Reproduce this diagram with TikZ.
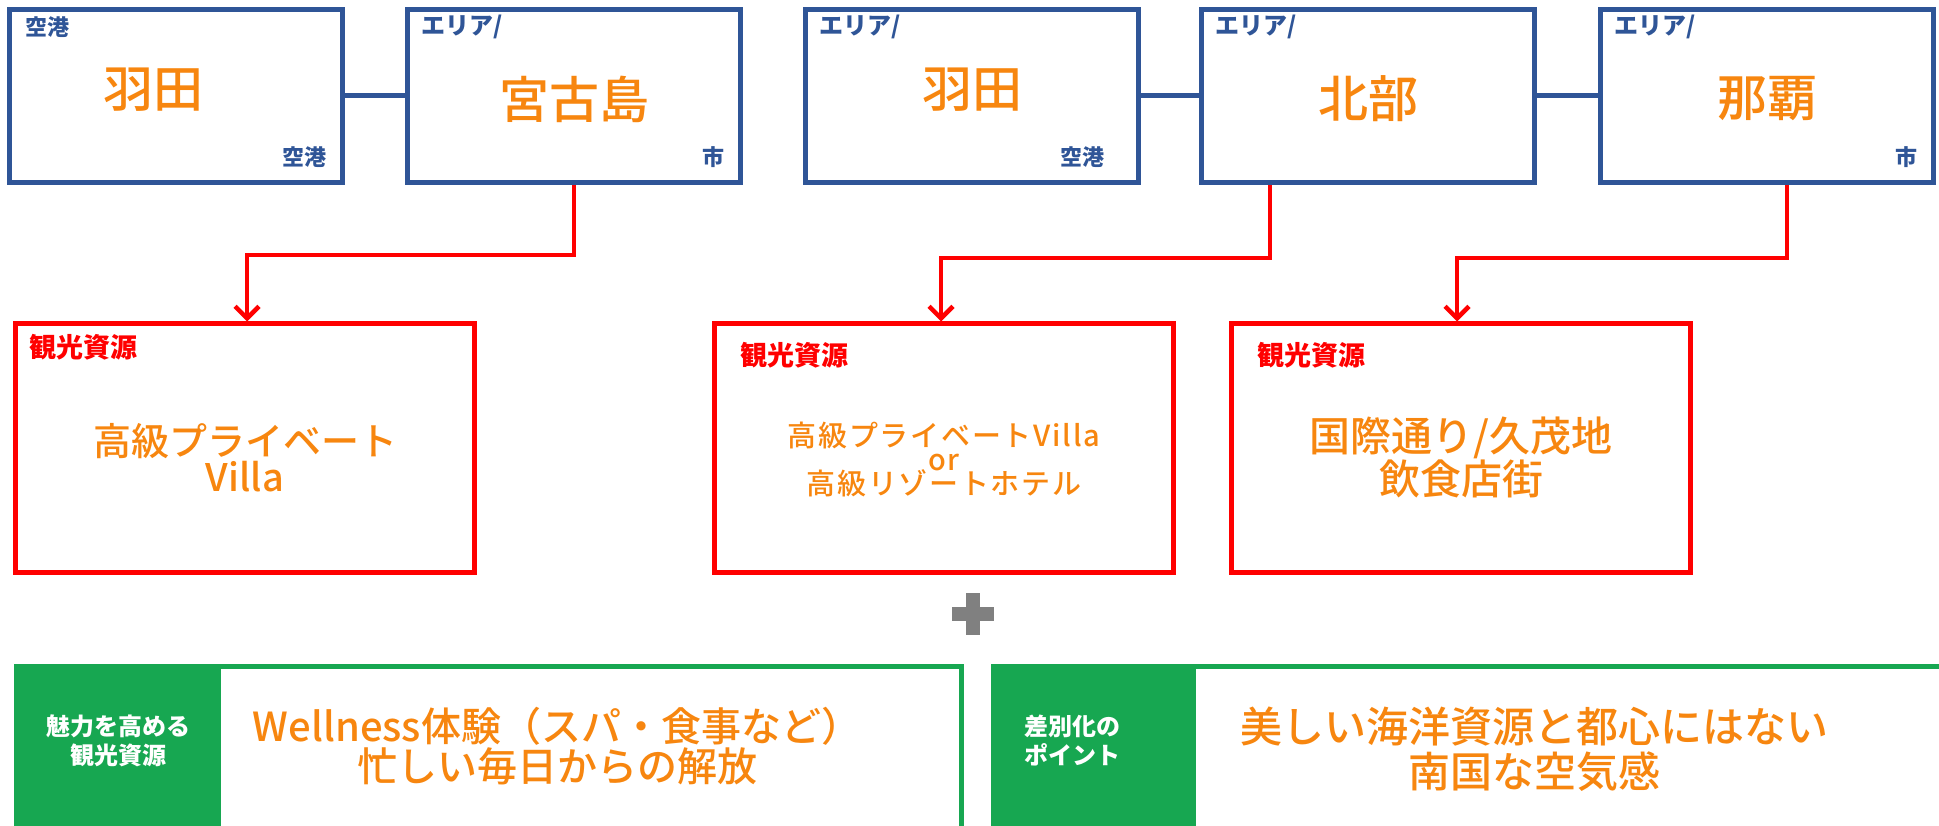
\documentclass[tikz,border=0pt]{standalone}
\usepackage{fontspec}
\setmainfont{Noto Sans CJK JP}
\newfontfamily\medfont{Noto Sans CJK JP}[UprightFont=* Medium]
\usetikzlibrary{arrows.meta}
\definecolor{bblue}{HTML}{2F5597}
\definecolor{orng}{HTML}{F7860F}
\definecolor{rred}{HTML}{FF0000}
\definecolor{ggreen}{HTML}{17A751}
\definecolor{ggray}{HTML}{808080}
\newcommand{\fs}[1]{\fontsize{#1}{#1}\selectfont}
\tikzset{
  bluebox/.style={draw=bblue,line width=5pt,minimum width=333pt,minimum height=173pt,inner sep=0pt},
  redbox/.style={draw=rred,line width=5pt,minimum width=459pt,minimum height=248pt,inner sep=0pt},
  bigtxt/.style={text=orng,font=\medfont\fs{50},inner sep=0pt},
  smalllbl/.style={text=bblue,font=\bfseries\fs{22},inner sep=0pt},
  arealbl/.style={text=bblue,font=\bfseries\fs{24},inner sep=0pt,anchor=north west},
  redlbl/.style={text=rred,font=\bfseries\fs{27},inner sep=0pt,anchor=west},
  bluelink/.style={draw=bblue,line width=5pt},
  redarrow/.style={draw=rred,line width=4.5pt,-{Straight Barb[length=12pt,width=24pt,line width=4.5pt]}},
  midtxt/.style={text=orng,inner sep=0pt,align=center},
  greenfr/.style={draw=ggreen,line width=5pt,fill=white},
  greenlbl/.style={text=white,font=\bfseries\fs{24},align=center,inner sep=0pt}
}
\begin{document}
\begin{tikzpicture}[x=1pt,y=-1pt]
\useasboundingbox (0,0) rectangle (1939,826);
% top row
\node[bluebox] (b1) at (176,96) {};
\node[bluebox] (b2) at (574,96) {};
\node[bluebox] (b3) at (972,96) {};
\node[bluebox] (b4) at (1368,96) {};
\node[bluebox] (b5) at (1767,96) {};
\draw[bluelink] (b1.east) -- (b2.west);
\draw[bluelink] (b3.east) -- (b4.west);
\draw[bluelink] (b4.east) -- (b5.west);
\node[bigtxt] (t1) at (153,90) {羽田};
\node[bigtxt] (t2) at (574,99) {宮古島};
\node[bigtxt] (t3) at (972,90) {羽田};
\node[bigtxt] (t4) at (1368,99) {北部};
\node[bigtxt] (t5) at (1767,99) {那覇};
\node[smalllbl,anchor=north west] (l1) at (25,16) {空港};
\node[smalllbl,anchor=south east] (l1b) at (327,168) {空港};
\node[arealbl] (l2) at (421,15) {エリア/};
\node[smalllbl,anchor=south east] (l2b) at (725,168) {市};
\node[arealbl] (l3) at (819,15) {エリア/};
\node[smalllbl,anchor=south east] (l3b) at (1105,168) {空港};
\node[arealbl] (l4) at (1215,15) {エリア/};
\node[arealbl] (l5) at (1614,15) {エリア/};
\node[smalllbl,anchor=south east] (l5b) at (1918,168) {市};
% red boxes
\node[redbox] (r1) at (245,448) {};
\node[redbox] (r2) at (944,448) {};
\node[redbox] (r3) at (1461,448) {};
\coordinate (k1) at (574,255);
\coordinate (k2) at (1270,258);
\coordinate (k3) at (1787,258);
\draw[redarrow] (b2.south) -- (k1) -| (r1.north -| 247,0);
\draw[redarrow] (b4.south -| k2) -- (k2) -| (r2.north -| 941,0);
\draw[redarrow] (b5.south -| k3) -- (k3) -| (r3.north -| 1457,0);
\node[redlbl] (rl1) at (29,347) {観光資源};
\node[redlbl] (rl2) at (740,355) {観光資源};
\node[redlbl] (rl3) at (1257,355) {観光資源};
\node[midtxt,font=\medfont\fs{38}] (rt1) at (245,458) {高級プライベート\\[-2pt]Villa};
\node[midtxt,font=\medfont\fs{29}\addfontfeatures{LetterSpace=6}] (rt2) at (944,459) {高級プライベートVilla\\[-5pt]or\\[-5pt]高級リゾートホテル};
\node[midtxt,font=\medfont\fs{41}] (rt3) at (1461,457) {国際通り/久茂地\\[0pt]飲食店街};
% plus
\fill[ggray] (952,607) rectangle (994,621);
\fill[ggray] (966,593) rectangle (980,635);
\node[inner sep=0pt] (plus) at (973,614) {};
% green boxes
\draw[greenfr] (16,666) rectangle (961,830);
\fill[ggreen] (16,666) rectangle (221,830);
\draw[greenfr] (993,666) rectangle (1945,830);
\fill[ggreen] (993,666) rectangle (1196,830);
\node[greenlbl] (gl1) at (118,741) {魅力を高める\\[5pt]観光資源};
\node[greenlbl] (gl2) at (1072,741) {差別化の\\[5pt]ポイント};
\node[midtxt,font=\medfont\fs{40}] (gt1) at (557,746) {Wellness体験（スパ・食事など）\\[0pt]忙しい毎日からの解放};
\node[midtxt,font=\medfont\fs{42}] (gt2) at (1534,749) {美しい海洋資源と都心にはない\\[3pt]南国な空気感};
\end{tikzpicture}
\end{document}
